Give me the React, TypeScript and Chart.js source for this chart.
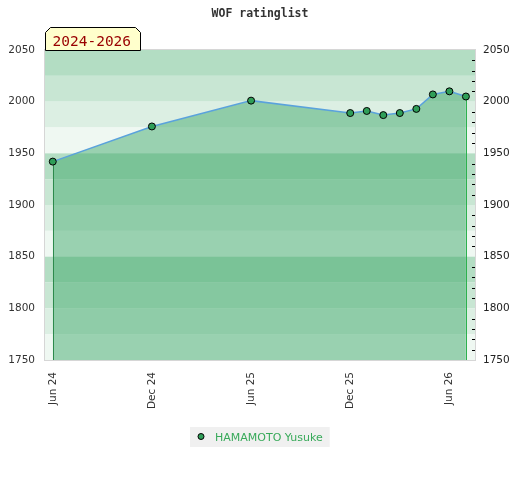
import { useEffect, useRef } from "react";
import { Chart, registerables } from "chart.js";

Chart.register(...registerables);

const titleText = "WOF ratinglist";
const periodLabel = "2024-2026";
const seriesName = "HAMAMOTO Yusuke";
const tickMonths = [0, 6, 12, 18, 24];
const tickLabels = ["Jun 24", "Dec 24", "Jun 25", "Dec 25", "Jun 26"];
const monthOffsets = [0, 6, 12, 18, 19, 20, 21, 22, 23, 24, 25];
const ratings = [1942, 1976, 2001, 1989, 1991, 1987, 1989, 1993, 2007, 2010, 2005];
const yMin = 1750;
const yMax = 2050;
const yStep = 50;

const bandColors = ["#b3ddc3", "#c8e6d3", "#dcefe3", "#eff8f2"];
const fillColor = "rgba(58,165,103,0.47)";
const markerColor = "#2f9e58";
const lineColor = "#5aa2dc";
const legendTextColor = "#38aa5a";

const decorPlugin = {
  id: "decor",
  beforeDatasetsDraw(chart: any) {
    const { ctx, chartArea: a, scales } = chart;
    const y = scales.y;
    ctx.save();
    let i = 0;
    for (let v = yMax; v > yMin; v -= 25, i++) {
      const top = y.getPixelForValue(v);
      const bot = y.getPixelForValue(v - 25);
      ctx.fillStyle = bandColors[i % 4];
      ctx.fillRect(a.left, top, a.right - a.left, bot - top);
    }
    ctx.restore();
  },
  beforeDatasetDraw(chart: any) {
    const { ctx, chartArea: a } = chart;
    const pts = chart.getDatasetMeta(0).data;
    if (!pts.length) return;
    const first = pts[0];
    const last = pts[pts.length - 1];
    ctx.save();
    ctx.lineWidth = 1;
    ctx.strokeStyle = "#2d8a4c";
    ctx.beginPath();
    ctx.moveTo(Math.round(first.x) + 0.5, first.y);
    ctx.lineTo(Math.round(first.x) + 0.5, a.bottom);
    ctx.stroke();
    ctx.strokeStyle = "#2cb24e";
    ctx.beginPath();
    ctx.moveTo(Math.round(last.x) + 0.5, last.y);
    ctx.lineTo(Math.round(last.x) + 0.5, a.bottom);
    ctx.stroke();
    ctx.restore();
  },
  afterDraw(chart: any) {
    const { ctx, chartArea: a, scales } = chart;
    const y = scales.y;
    ctx.save();
    // plot border
    ctx.strokeStyle = "#d6d6d6";
    ctx.lineWidth = 1;
    ctx.strokeRect(a.left - 0.5, a.top - 0.5, a.right - a.left + 1, a.bottom - a.top + 1);
    // right axis minor ticks
    ctx.strokeStyle = "#000";
    for (let v = yMin + 10; v < yMax; v += 10) {
      if (v % yStep === 0) continue;
      const py = Math.round(y.getPixelForValue(v)) + 0.5;
      ctx.beginPath();
      ctx.moveTo(a.right - 3, py);
      ctx.lineTo(a.right, py);
      ctx.stroke();
    }
    // title
    ctx.fillStyle = "#333";
    ctx.font = "bold 11.5px 'DejaVu Sans Mono'";
    ctx.textAlign = "center";
    ctx.textBaseline = "alphabetic";
    ctx.fillText(titleText, chart.width / 2, 17);
    // tab
    const L = a.left + 0.5;
    const T = a.top - 22.5;
    const R = a.left + 95.5;
    const B = a.top + 0.5;
    ctx.beginPath();
    ctx.moveTo(L, B);
    ctx.lineTo(L, T + 5);
    ctx.lineTo(L + 5, T);
    ctx.lineTo(R - 5, T);
    ctx.lineTo(R, T + 5);
    ctx.lineTo(R, B);
    ctx.closePath();
    ctx.fillStyle = "#ffffcc";
    ctx.fill();
    ctx.strokeStyle = "#000";
    ctx.stroke();
    ctx.fillStyle = "#990000";
    ctx.font = "14.5px 'DejaVu Sans Mono'";
    ctx.textAlign = "left";
    ctx.fillText(periodLabel, L + 7, B - 5);
    // legend
    ctx.font = "11px 'DejaVu Sans'";
    const tw = ctx.measureText(seriesName).width;
    const boxW = 25 + tw + 7;
    const boxX = Math.round(chart.width / 2 - boxW / 2);
    const boxY = 427;
    ctx.fillStyle = "#f0f0f0";
    ctx.fillRect(boxX, boxY, boxW, 20);
    ctx.beginPath();
    ctx.arc(boxX + 11, boxY + 9.5, 3, 0, Math.PI * 2);
    ctx.fillStyle = markerColor;
    ctx.fill();
    ctx.strokeStyle = "#000";
    ctx.stroke();
    ctx.fillStyle = legendTextColor;
    ctx.fillText(seriesName, boxX + 25, boxY + 13.5);
    ctx.restore();
  },
};

export default function App() {
  const ref = useRef<HTMLCanvasElement | null>(null);
  useEffect(() => {
    document.body.style.margin = "0";
    const canvas = ref.current;
    if (!canvas) return;
    const tickFont = { family: "'DejaVu Sans'", size: 10.5 };
    const plain = (v: any) => String(v);
    const chart = new Chart(canvas, {
      type: "line",
      data: {
        datasets: [
          {
            label: seriesName,
            data: monthOffsets.map((m, i) => ({ x: m, y: ratings[i] })),
            borderColor: lineColor,
            borderWidth: 1.5,
            backgroundColor: fillColor,
            fill: "start",
            tension: 0,
            pointRadius: 3.5,
            pointBorderWidth: 1,
            pointBackgroundColor: markerColor,
            pointBorderColor: "#000",
            yAxisID: "y",
          },
        ],
      },
      options: {
        responsive: false,
        animation: false,
        layout: { padding: { top: 50, left: 0, right: 0, bottom: 0 } },
        plugins: {
          legend: { display: false },
          title: { display: false },
          tooltip: { enabled: false },
        },
        scales: {
          x: {
            type: "linear",
            min: -0.47,
            max: 25.55,
            grid: { display: false, drawTicks: false },
            border: { display: false },
            afterBuildTicks: (s: any) => {
              s.ticks = tickMonths.map((v) => ({ value: v }));
            },
            afterFit: (s: any) => {
              s.height = 120;
            },
            ticks: {
              minRotation: 90,
              maxRotation: 90,
              autoSkip: false,
              padding: 12,
              color: "#333",
              font: tickFont,
              callback: (v: any) => {
                const idx = tickMonths.indexOf(Number(v));
                return idx >= 0 ? tickLabels[idx] : "";
              },
            },
          },
          y: {
            position: "left",
            min: yMin,
            max: yMax,
            grid: { display: false, drawTicks: false },
            border: { display: false },
            afterFit: (s: any) => {
              s.width = 45;
            },
            ticks: { stepSize: yStep, padding: 10, color: "#333", font: tickFont, callback: plain },
          },
          y2: {
            position: "right",
            min: yMin,
            max: yMax,
            grid: { display: false, drawTicks: false },
            border: { display: false },
            afterFit: (s: any) => {
              s.width = 45;
            },
            ticks: { stepSize: yStep, padding: 8, color: "#222", font: tickFont, callback: plain },
          },
        },
      } as any,
      plugins: [decorPlugin],
    });
    return () => chart.destroy();
  }, []);
  return (
    <div style={{ width: 520, height: 480 }}>
      <canvas ref={ref} width={520} height={480} />
    </div>
  );
}
